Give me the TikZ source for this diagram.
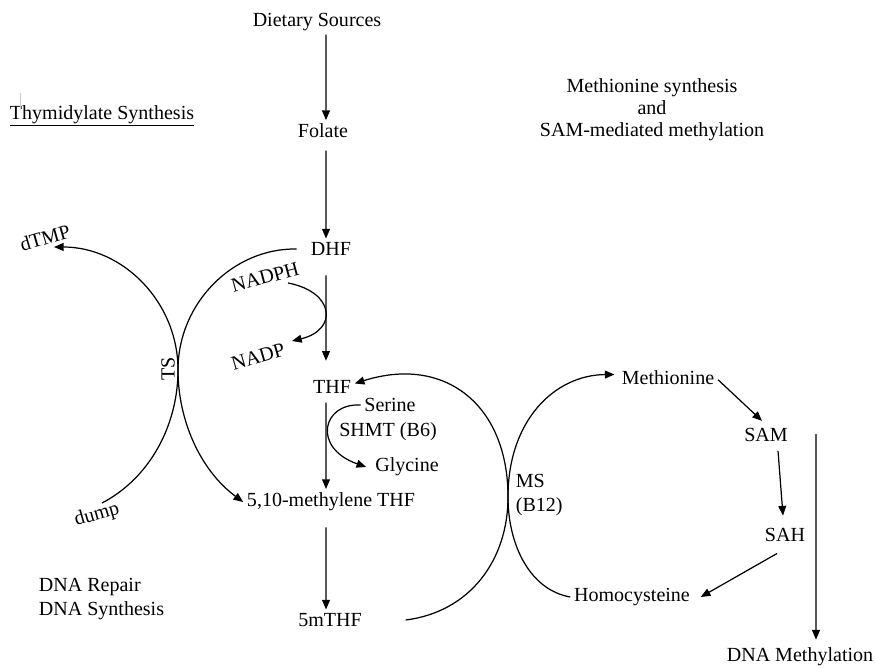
\documentclass[tikz,border=0pt]{standalone}
\usepackage{fontspec}
\setmainfont{Liberation Serif}
\usetikzlibrary{arrows.meta}
\tikzset{
  txt/.style={inner sep=2pt, text=black},
  tilt/.style={txt, rotate=#1},
  arr/.style={-{Triangle[length=5.5pt, width=4.5pt]}, draw=black, line width=0.7pt}}

\begin{document}
\begin{tikzpicture}[font=\fontsize{11.4}{13.7}\selectfont]
  \useasboundingbox (0,0) rectangle (17.5,13.34);
  % headings
  \node[txt] (thy) at (2.04,11.02) {\underline{Thymidylate Synthesis}};
  \node[txt, align=center, font=\fontsize{11.4}{12.5}\selectfont] (mhead) at (13.04,11.14)
    {Methionine synthesis\\ and\\ SAM-mediated methylation};
  \draw[black!20, line width=0.5pt] (0.40,11.48) -- (0.40,11.14);
  % folate column
  \node[txt] (diet) at (6.34,12.90) {Dietary Sources};
  \node[txt] (fol) at (6.46,10.72) {Folate};
  \node[txt] (dhf) at (6.62,8.36) {DHF};
  \node[txt] (thf) at (6.64,5.60) {THF};
  \node[txt] (mthf) at (6.62,3.30) {5,10-methylene THF};
  \node[txt] (fmthf) at (6.60,0.94) {5mTHF};
  \draw[arr] ([xshift=0.18cm]diet.south) -- ([xshift=0.06cm]fol.north);
  \draw[arr] ([xshift=0.06cm, yshift=-5pt]fol.south) -- ([xshift=-0.1cm]dhf.north);
  \draw[arr] ([xshift=-0.1cm, yshift=-9pt]dhf.south) -- ([xshift=-0.12cm, yshift=9pt]thf.north);
  \draw[arr] ([xshift=-0.12cm, yshift=-3pt]thf.south) -- ([xshift=-0.1cm]mthf.north);
  \draw[arr] ([xshift=-0.1cm, yshift=-7pt]mthf.south) -- ([xshift=-0.08cm]fmthf.north);
  % NADPH / NADP
  \node[tilt=15] (nadph) at (5.30,7.80) {NADPH};
  \node[tilt=16] (nadp) at (5.16,6.20) {NADP};
  \coordinate (nadin) at (5.76,7.68);
  \coordinate (nadout) at (5.84,6.52);
  \draw[arr] (nadin) .. controls (6.70,7.50) and (6.76,6.74) .. (nadout);
  % thymidylate synthase crossing
  \node[tilt=16] (dtmp) at (0.90,8.58) {dTMP};
  \node[tilt=16] (dump) at (1.94,3.04) {dump};
  \node[tilt=90] (ts) at (3.36,5.96) {TS};
  \coordinate (tsx) at (3.56,5.94);
  \coordinate (dumpout) at (2.04,3.28);
  \coordinate (dtmpin) at (1.08,8.40);
  \draw[arr] ([xshift=-6pt]dhf.west) .. controls (4.66,8.38) and (3.56,7.28) .. (tsx)
    .. controls (3.56,4.94) and (4.00,3.94) .. (mthf.west);
  \draw[arr] (dumpout) .. controls (3.00,3.78) and (3.56,4.84) .. (tsx)
    .. controls (3.56,7.30) and (2.46,8.40) .. (dtmpin);
  % serine hydroxymethyltransferase
  \node[txt] (ser) at (7.80,5.24) {Serine};
  \node[txt] (shmt) at (7.76,4.70) {SHMT (B6)};
  \node[txt] (gly) at (8.14,4.00) {Glycine};
  \draw[arr] (ser.west) .. controls (6.44,5.28) and (6.24,4.38) .. ([xshift=-3pt]gly.west);
  % methionine synthase crossing
  \node[txt, align=left, anchor=west] (ms) at (10.24,3.44) {MS\\(B12)};
  \node[txt] (met) at (13.36,5.78) {Methionine};
  \node[txt] (hcy) at (12.64,1.40) {Homocysteine};
  \coordinate (msx) at (10.16,3.40);
  \draw[arr] ([xshift=0.8cm]fmthf.east) .. controls (9.40,1.10) and (10.16,2.14) .. (msx)
    .. controls (10.16,5.24) and (8.90,6.24) .. ([yshift=2pt]thf.east);
  \draw[arr] (hcy.west) .. controls (10.60,1.54) and (10.16,2.44) .. (msx)
    .. controls (10.16,4.94) and (11.10,5.84) .. ([xshift=-2pt, yshift=2pt]met.west);
  % SAM cycle
  \node[txt] (sam) at (15.32,4.64) {SAM};
  \node[txt] (sah) at (15.70,2.64) {SAH};
  \node[txt] (dnam) at (16.00,0.20) {DNA Methylation};
  \coordinate (mtop) at (16.32,4.66);
  \draw[arr] ([yshift=-1pt]met.east) -- ([xshift=-0.08cm, yshift=2pt]sam.north);
  \draw[arr] ([xshift=0.24cm, yshift=-3pt]sam.south) -- ([xshift=-0.04cm, yshift=5pt]sah.north);
  \draw[arr] ([xshift=-0.16cm, yshift=-4.5pt]sah.south) -- ([xshift=4pt]hcy.east);
  \draw[arr] (mtop) -- ([xshift=0.32cm, yshift=2.5pt]dnam.north);
  % outcomes
  \node[txt, align=left, anchor=west] (repair) at (0.70,1.36) {DNA Repair\\ DNA Synthesis};
\end{tikzpicture}
\end{document}
